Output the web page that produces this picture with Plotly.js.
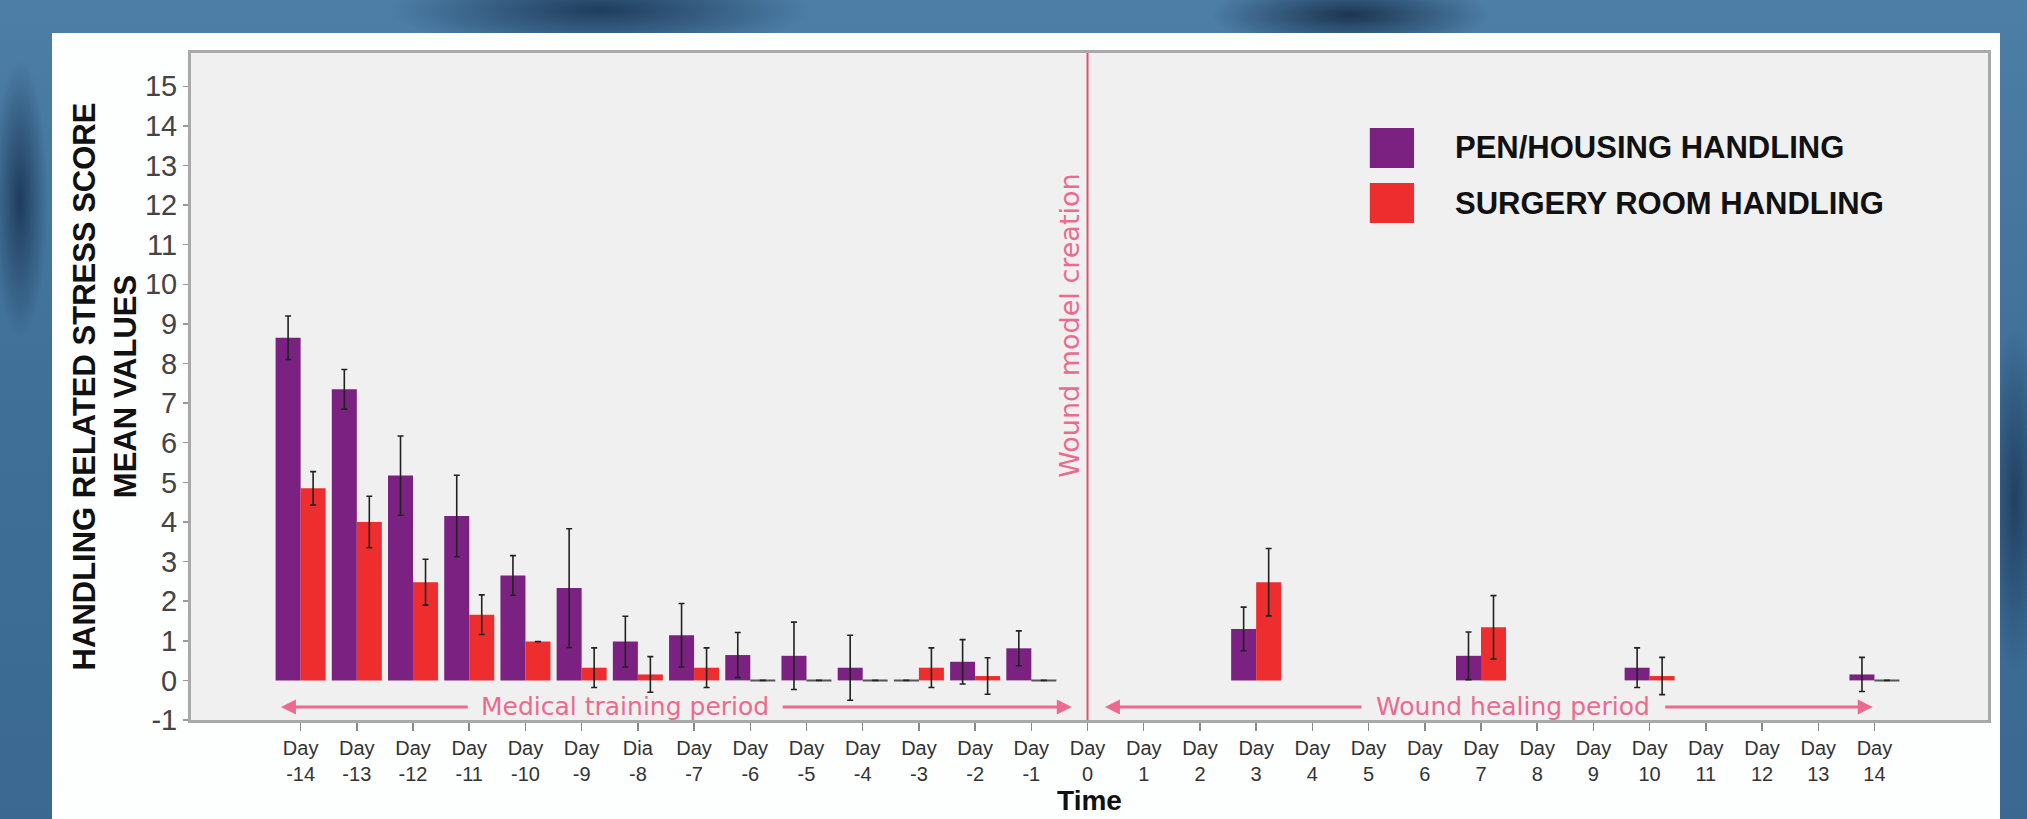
<!DOCTYPE html>
<html><head><meta charset="utf-8">
<script src="https://cdn.plot.ly/plotly-3.0.1.min.js"></script>
<style>
html,body{margin:0;padding:0;width:2027px;height:819px;overflow:hidden;}
body{background:
 radial-gradient(ellipse 300px 60px at 600px 10px, rgba(20,45,75,0.8), rgba(20,45,75,0) 70%),
 radial-gradient(ellipse 200px 50px at 1350px 15px, rgba(15,35,60,0.8), rgba(15,35,60,0) 70%),
 radial-gradient(ellipse 40px 200px at 20px 200px, rgba(20,45,75,0.8), rgba(20,45,75,0) 70%),
 radial-gradient(ellipse 40px 250px at 2015px 500px, rgba(20,45,75,0.7), rgba(20,45,75,0) 70%),
 linear-gradient(180deg,#4d7ea6 0%,#3f6f97 50%,#3a6891 100%);}
#chart{position:absolute;left:52px;top:33px;width:1948px;height:786px;}
</style></head><body><div id="chart"></div>
<script>
// ---- data ----
const days = [-14,-13,-12,-11,-10,-9,-8,-7,-6,-5,-4,-3,-2,-1,0,1,2,3,4,5,6,7,8,9,10,11,12,13,14];
const dayLabels = ["Day<br>-14","Day<br>-13","Day<br>-12","Day<br>-11","Day<br>-10","Day<br>-9","Dia<br>-8","Day<br>-7","Day<br>-6","Day<br>-5","Day<br>-4","Day<br>-3","Day<br>-2","Day<br>-1","Day<br>0","Day<br>1","Day<br>2","Day<br>3","Day<br>4","Day<br>5","Day<br>6","Day<br>7","Day<br>8","Day<br>9","Day<br>10","Day<br>11","Day<br>12","Day<br>13","Day<br>14"];
const seriesNames = ["PEN/HOUSING HANDLING","SURGERY ROOM HANDLING"];
const penMeans = [8.65,7.35,5.17,4.15,2.65,2.33,0.98,1.14,0.64,0.62,0.32,0,0.47,0.81,null,null,null,1.30,null,null,null,0.62,null,null,0.32,null,null,null,0.15];
const penErr   = [0.55,0.50,1.00,1.03,0.50,1.50,0.64,0.80,0.57,0.85,0.82,0,0.56,0.44,0,0,0,0.55,0,0,0,0.60,0,0,0.50,0,0,0,0.43];
const surgMeans = [4.85,4.00,2.48,1.66,0.98,0.32,0.15,0.32,0,0,0,0.32,0.11,0,null,null,null,2.48,null,null,null,1.34,null,null,0.11,null,null,null,0];
const surgErr   = [0.42,0.65,0.58,0.50,0,0.50,0.45,0.50,0,0,0,0.50,0.46,0,0,0,0,0.85,0,0,0,0.80,0,0,0.47,0,0,0,0];
const yTicks = [-1,0,1,2,3,4,5,6,7,8,9,10,11,12,13,14,15];
const yTickText = ["-1","0","1","2","3","4","5","6","7","8","9","10","11","12","13","14","15"];
const eventDay = 0;
const eventLabel = "Wound model creation";
const periods = [
  {label:"Medical training period", start:-14.35, textStart:-11.0, textEnd:-5.45, end:-0.28},
  {label:"Wound healing period", start:0.31, textStart:4.9, textEnd:10.25, end:13.97}
];
const periodY = -0.67;

// ---- styles ----
const colors = ["#7a2182","#ee2e2e"];
const pink = "#ec6a8e";
const tickFont = "Liberation Sans, Arial, sans-serif";

function zeroLineWidths(vals){ return vals.map(v => v === 0 ? 2 : 0); }

const traces = [
  {type:"bar", name:seriesNames[0], x:days, y:penMeans,
   marker:{color:colors[0], line:{color:"#555", width:zeroLineWidths(penMeans)}},
   error_y:{type:"data", array:penErr, visible:true, color:"#222", thickness:1.6, width:3},
   showlegend:false},
  {type:"bar", name:seriesNames[1], x:days, y:surgMeans,
   marker:{color:colors[1], line:{color:"#555", width:zeroLineWidths(surgMeans)}},
   error_y:{type:"data", array:surgErr, visible:true, color:"#222", thickness:1.6, width:3},
   showlegend:false}
];

const annotations = [];
const shapes = [];
// event line
shapes.push({type:"line", xref:"x", yref:"paper", x0:eventDay, x1:eventDay, y0:0, y1:1,
  line:{color:"#ea4a6e", width:2}});
annotations.push({xref:"x", yref:"y", x:eventDay-0.32, y:8.94, text:eventLabel, textangle:-90,
  showarrow:false, font:{family:"DejaVu Sans, sans-serif", size:27, color:pink}});
// period arrows & labels
periods.forEach(p => {
  annotations.push({xref:"x", yref:"y", axref:"x", ayref:"y", x:p.start, y:periodY, ax:p.textStart, ay:periodY,
    text:"", showarrow:true, arrowhead:2, arrowsize:1, arrowwidth:3, arrowcolor:pink, standoff:0, startstandoff:0});
  annotations.push({xref:"x", yref:"y", axref:"x", ayref:"y", x:p.end, y:periodY, ax:p.textEnd, ay:periodY,
    text:"", showarrow:true, arrowhead:2, arrowsize:1, arrowwidth:3, arrowcolor:pink, standoff:0, startstandoff:0});
  annotations.push({xref:"x", yref:"y", x:(p.textStart+p.textEnd)/2, y:periodY, text:p.label, showarrow:false,
    yanchor:"middle", font:{family:"DejaVu Sans, sans-serif", size:25, color:pink}});
});
// legend (drawn manually to match large swatches)
const legX0 = 0.656, legX1 = 0.6806, legTextX = 0.7023;
const legRows = [{top:0.8876, bottom:0.8276}, {top:0.8051, bottom:0.7451}];
seriesNames.forEach((n,i) => {
  shapes.push({type:"rect", xref:"paper", yref:"paper", x0:legX0, x1:legX1, y0:legRows[i].bottom, y1:legRows[i].top,
    fillcolor:colors[i], line:{width:0}});
  annotations.push({xref:"paper", yref:"paper", x:legTextX, y:(legRows[i].top+legRows[i].bottom)/2,
    xanchor:"left", yanchor:"middle", showarrow:false, text:n,
    font:{family:"Liberation Sans, Arial, sans-serif", size:31, color:"#111", weight:700}});
});

const layout = {
  width:1948, height:786,
  margin:{l:139, r:12, t:20, b:99, pad:0},
  paper_bgcolor:"#fdfefe", plot_bgcolor:"#f0f0f0",
  barmode:"group", bargap:0.11, bargroupgap:0,
  xaxis:{range:[-15.95,16.02], tickmode:"array", tickvals:days, ticktext:dayLabels,
    ticks:"outside", ticklen:8, tickcolor:"#888", tickwidth:1.5,
    showline:true, linecolor:"#a9a9a9", linewidth:3, mirror:true, showgrid:false, zeroline:false,
    tickfont:{family:tickFont, size:20, color:"#333"},
    title:{text:"Time", standoff:0, font:{family:"Liberation Sans, Arial, sans-serif", size:28, color:"#111", weight:700}}},
  yaxis:{range:[-1,15.84], tickmode:"array", tickvals:yTicks, ticktext:yTickText,
    ticks:"outside", ticklen:5, tickcolor:"#999", tickwidth:1.5,
    showline:true, linecolor:"#a9a9a9", linewidth:3, mirror:true, showgrid:false, zeroline:false,
    tickfont:{family:tickFont, size:29, color:"#444"},
    title:{text:"HANDLING RELATED STRESS SCORE<br>MEAN VALUES", standoff:0,
      font:{family:"Liberation Sans, Arial, sans-serif", size:31, color:"#111", weight:700}}},
  shapes:shapes, annotations:annotations, showlegend:false
};
Plotly.newPlot("chart", traces, layout, {displayModeBar:false, staticPlot:true});
</script></body></html>
